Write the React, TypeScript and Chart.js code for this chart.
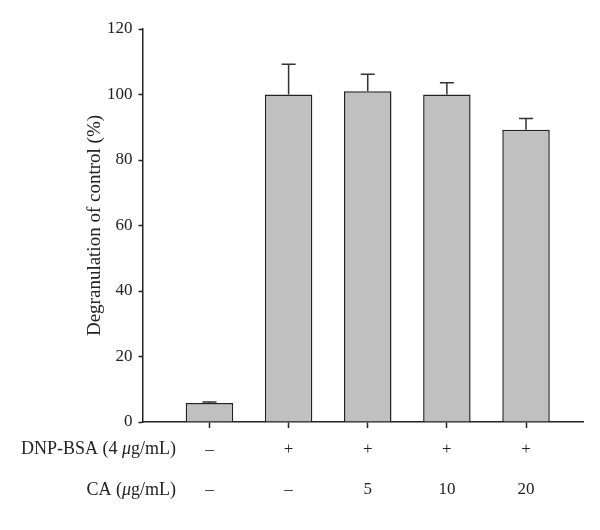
import React, { useEffect, useRef } from "react";
import { Chart, registerables } from "chart.js";

Chart.register(...registerables);

const positions = [1, 2, 3, 4, 5];
const values = [5.8, 100, 101, 100, 89.2];
const errors = [0.3, 9.2, 5.2, 3.6, 3.5];
const dnpLabels = ["–", "+", "+", "+", "+"];
const caLabels = ["–", "–", "5", "10", "20"];
const yTicks = [0, 20, 40, 60, 80, 100, 120];
const yTitle = "Degranulation of control (%)";
const FONT = "'Liberation Serif', 'Times New Roman', serif";
const INK = "#222";

const errorBarPlugin = {
  id: "errorBars",
  afterDatasetsDraw(chart: any) {
    const meta = chart.getDatasetMeta(0);
    const ys = chart.scales.y;
    const ctx = chart.ctx;
    ctx.save();
    ctx.strokeStyle = "#333";
    ctx.lineWidth = 1.5;
    meta.data.forEach((bar: any, i: number) => {
      const x = bar.x;
      const yb = ys.getPixelForValue(values[i]);
      const yt = ys.getPixelForValue(values[i] + errors[i]);
      ctx.beginPath();
      ctx.moveTo(x, yb);
      ctx.lineTo(x, yt);
      ctx.moveTo(x - 7, yt);
      ctx.lineTo(x + 7, yt);
      ctx.stroke();
    });
    ctx.restore();
  },
};

const rowHeaderPlugin = {
  id: "rowHeaders",
  afterDraw(chart: any) {
    const ctx = chart.ctx;
    const xs = chart.scales.x;
    const rightX = 176;
    const row1 = xs.top + 27;
    const row2 = xs.top + 68;
    ctx.save();
    ctx.fillStyle = INK;
    ctx.textBaseline = "middle";
    const drawParts = (parts: [string, boolean][], y: number) => {
      let total = 0;
      const widths = parts.map(([t, it]) => {
        ctx.font = `${it ? "italic " : ""}18px ${FONT}`;
        const w = ctx.measureText(t).width;
        total += w;
        return w;
      });
      let x = rightX - total;
      parts.forEach(([t, it], k) => {
        ctx.font = `${it ? "italic " : ""}18px ${FONT}`;
        ctx.textAlign = "left";
        ctx.fillText(t, x, y);
        x += widths[k];
      });
    };
    drawParts([["DNP-BSA (4 ", false], ["μ", true], ["g/mL)", false]], row1);
    drawParts([["CA (", false], ["μ", true], ["g/mL)", false]], row2);
    ctx.restore();
  },
};

export default function App() {
  const ref = useRef<HTMLCanvasElement | null>(null);
  useEffect(() => {
    if (!ref.current) return;
    const chart = new Chart(ref.current, {
      type: "bar",
      data: {
        datasets: [
          {
            data: positions.map((p, i) => ({ x: p, y: values[i] })),
            backgroundColor: "#c0c0c0",
            borderColor: INK,
            borderWidth: 1.5,
            barPercentage: 0.6,
            categoryPercentage: 1,
          },
        ],
      },
      options: {
        responsive: false,
        animation: false,
        devicePixelRatio: 1,
        layout: { padding: { top: 29, right: 17, left: 0, bottom: 0 } },
        plugins: { legend: { display: false }, tooltip: { enabled: false } },
        scales: {
          x: {
            type: "linear",
            offset: false,
            min: 0.154,
            max: 5.72,
            afterBuildTicks: (scale: any) => {
              scale.ticks = positions.map((v) => ({ value: v }));
            },
            afterFit: (scale: any) => {
              scale.height = 108;
            },
            ticks: {
              autoSkip: false,
              maxRotation: 0,
              padding: 2,
              color: INK,
              font: { family: FONT, size: 17, lineHeight: 2.35 },
              callback: (v: any) => {
                const i = positions.indexOf(Number(v));
                return i >= 0 ? [dnpLabels[i], caLabels[i]] : "";
              },
            },
            grid: {
              offset: false,
              drawOnChartArea: false,
              drawTicks: true,
              tickLength: 6,
              tickWidth: 1.5,
              tickColor: INK,
            },
            border: { display: true, color: INK, width: 1.5 },
          },
          y: {
            min: 0,
            max: 120,
            afterBuildTicks: (scale: any) => {
              scale.ticks = yTicks.map((v) => ({ value: v }));
            },
            afterFit: (scale: any) => {
              scale.width = 142.5;
            },
            ticks: {
              padding: 6,
              color: INK,
              font: { family: FONT, size: 17 },
            },
            grid: {
              drawOnChartArea: false,
              drawTicks: true,
              tickLength: 4,
              tickWidth: 1.5,
              tickColor: INK,
            },
            border: { display: true, color: INK, width: 1.5 },
            title: {
              display: true,
              text: yTitle,
              color: INK,
              font: { family: FONT, size: 19 },
              padding: { top: 84, bottom: 0 },
            },
          },
        },
      },
      plugins: [errorBarPlugin, rowHeaderPlugin],
    } as any);
    return () => chart.destroy();
  }, []);
  return (
    <div style={{ position: "absolute", left: 0, top: 0, width: 600, height: 530, background: "#fff" }}>
      <canvas ref={ref} width={600} height={530} />
    </div>
  );
}
